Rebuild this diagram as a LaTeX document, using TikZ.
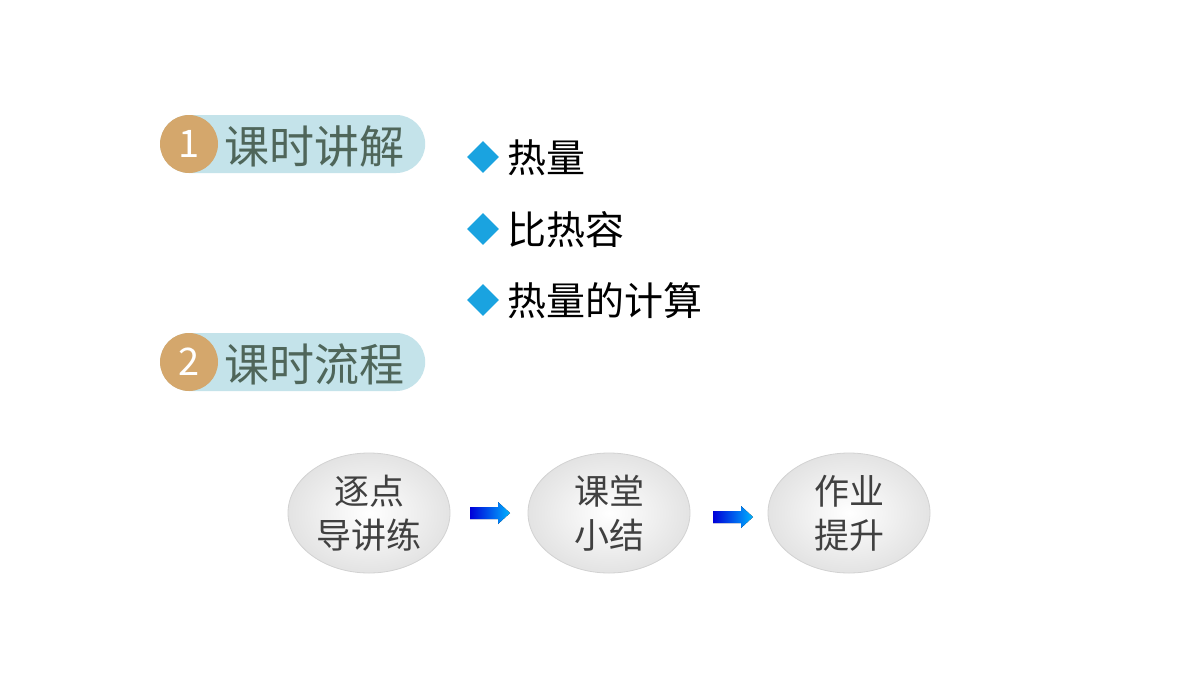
\documentclass[tikz,border=0pt]{standalone}
\usepackage{fontspec}
\usetikzlibrary{shapes.geometric,shadings}
\newfontfamily\cjk{Noto Sans CJK SC}
\definecolor{tan}{HTML}{D4A76C}
\definecolor{pill}{HTML}{C4E3EA}
\definecolor{headtxt}{HTML}{4F665A}
\definecolor{dia}{HTML}{1AA3E0}
\tikzset{
  pillbox/.style={fill=pill,rounded corners=29pt,minimum width=265pt,minimum height=58pt,anchor=west},
  numdot/.style={circle,fill=tan,minimum size=58pt,text=white,font=\cjk\fontsize{38}{38}\selectfont},
  headtext/.style={anchor=west,text=headtxt,inner sep=0pt,font=\cjk\fontsize{45}{46}\selectfont},
  bul/.style={anchor=west,font=\cjk\fontsize{39}{40}\selectfont,inner sep=0pt},
  dmd/.style={diamond,fill=dia,minimum size=32pt,inner sep=0pt},
  oval/.style={ellipse,minimum width=162pt,minimum height=120pt,draw=gray!35,line width=0.8pt,
    inner color=white,outer color=gray!22,align=center,text=black!75,
    font=\cjk\fontsize{35}{44}\selectfont},
  barrowfill/.style={left color=blue!85!black,right color=cyan!70!blue,draw=none}
}
\newcommand{\blockarrow}[2]{%
  \coordinate (#1) at (#2);
  \fill[barrowfill] ([shift={(-20,-6)}]#1) -- ([shift={(8,-6)}]#1) -- ([shift={(8,-11)}]#1)
    -- ([shift={(20,0)}]#1) -- ([shift={(8,11)}]#1) -- ([shift={(8,6)}]#1) -- ([shift={(-20,6)}]#1) -- cycle;}
\begin{document}
\begin{tikzpicture}[x=1pt,y=-1pt]
\useasboundingbox (0,0) rectangle (1200,675);
\fill[white] (0,0) rectangle (1200,675);
\node[pillbox] (p1) at (160,144) {};
\node[numdot] (n1) at (189,144) {1};
\node[headtext] (h1) at (224,146) {课时讲解};
\node[pillbox] (p2) at (160,362) {};
\node[numdot] (n2) at (189,362) {2};
\node[headtext] (h2) at (224,364) {课时流程};
\node[dmd] (d1) at (483,157) {};
\node[bul] (b1) at (507,158) {热量};
\node[dmd] (d2) at (483,229) {};
\node[bul] (b2) at (507,230) {比热容};
\node[dmd] (d3) at (483,300) {};
\node[bul] (b3) at (507,301) {热量的计算};
\node[oval] (e1) at (369,513) {逐点\\导讲练};
\node[oval] (e2) at (609,513) {课堂\\小结};
\node[oval] (e3) at (849,513) {作业\\提升};
\blockarrow{a1}{490,513}
\blockarrow{a2}{733,517}
\end{tikzpicture}
\end{document}
